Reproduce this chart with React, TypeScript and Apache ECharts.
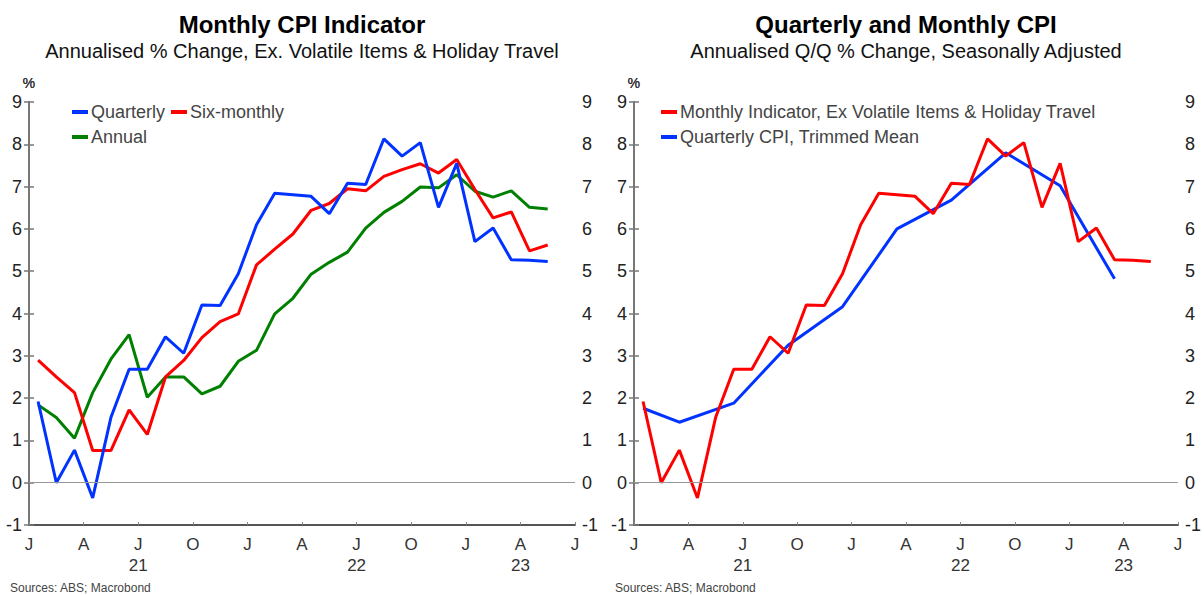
import React, { useEffect, useRef } from "react";
import * as echarts from "echarts";

const months = [
  "2021-01","2021-02","2021-03","2021-04","2021-05","2021-06","2021-07","2021-08","2021-09","2021-10","2021-11","2021-12",
  "2022-01","2022-02","2022-03","2022-04","2022-05","2022-06","2022-07","2022-08","2022-09","2022-10","2022-11","2022-12",
  "2023-01","2023-02","2023-03","2023-04","2023-05","2023-06",
];
const quarterTickLabels = ["J", "A", "J", "O"];
const yearLabels = ["21", "22", "23"];
const yearCenterMonths = [6, 18, 27];

// Monthly CPI indicator, annualised changes (ex volatile items & holiday travel)
const quarterly = [1.92, 0.0, 0.77, -0.36, 1.54, 2.68, 2.68, 3.45, 3.06, 4.2, 4.19, 4.94, 6.1, 6.84, 6.81, 6.77, 6.36, 7.08, 7.05, 8.13, 7.72, 8.04, 6.51, 7.55, 5.7, 6.02, 5.27, 5.26, 5.23, null];
const sixMonthly = [2.9, 2.5, 2.13, 0.76, 0.76, 1.72, 1.14, 2.5, 2.89, 3.43, 3.81, 3.99, 5.15, 5.52, 5.88, 6.44, 6.6, 6.95, 6.9, 7.24, 7.4, 7.54, 7.32, 7.64, 6.93, 6.26, 6.4, 5.48, 5.62, null];
const annual = [1.84, 1.54, 1.05, 2.13, 2.92, 3.5, 2.02, 2.5, 2.5, 2.1, 2.28, 2.87, 3.13, 3.99, 4.36, 4.93, 5.21, 5.45, 6.02, 6.39, 6.65, 6.99, 6.97, 7.28, 6.89, 6.75, 6.9, 6.51, 6.47, null];

// Quarterly CPI trimmed mean, annualised Q/Q (month, value)
const trimmedMonths = ["2021-01", "2021-03", "2021-06", "2021-09", "2021-12", "2022-03", "2022-06", "2022-09", "2022-12", "2023-03"];
const trimmedMean = [1.76, 1.43, 1.88, 3.25, 4.16, 6.0, 6.68, 7.8, 7.02, 4.82];

const FONT = "Liberation Sans, Arial, sans-serif";
const BLUE = "#0033ff";
const RED = "#ff0000";
const GREEN = "#008000";

const toPoints = (vals: (number | null)[]) =>
  vals.map((v, i) => [i + 0.5, v]).filter((p) => p[1] !== null);
const toPointsAt = (ms: string[], vals: number[]) =>
  ms.map((m, i) => [months.indexOf(m) + 0.5, vals[i]]);

export default function App() {
  const ref = useRef<HTMLDivElement>(null);
  useEffect(() => {
    if (!ref.current) return;
    const chart = echarts.init(ref.current, null, { renderer: "svg" });

    const grids = [
      { left: 29, top: 102, width: 546, height: 423 },
      { left: 634, top: 102, width: 545, height: 423 },
    ];

    const xAxes: any[] = [];
    const yAxes: any[] = [];
    grids.forEach((_, gi) => {
      xAxes.push({
        type: "value",
        gridIndex: gi,
        min: 0,
        max: months.length,
        interval: 3,
        axisLine: { show: true, onZero: false, lineStyle: { color: "#555", width: 2 } },
        axisTick: { show: true, inside: true, length: 3, lineStyle: { color: "#888" } },
        splitLine: { show: false },
        axisLabel: {
          fontFamily: FONT,
          fontSize: 17,
          color: "#333",
          margin: 11,
          showMinLabel: true,
          showMaxLabel: true,
          formatter: (v: number) => quarterTickLabels[Math.round(v / 3) % 4],
        },
      });
      xAxes.push({
        type: "value",
        gridIndex: gi,
        position: "bottom",
        offset: 22,
        min: 0,
        max: months.length,
        axisLine: { show: false },
        axisTick: { show: false },
        splitLine: { show: false },
        axisLabel: {
          fontFamily: FONT,
          fontSize: 17,
          color: "#333",
          margin: 10,
          customValues: yearCenterMonths,
          formatter: (v: number) => yearLabels[yearCenterMonths.indexOf(Math.round(v))] ?? "",
        },
      });
      ["left", "right"].forEach((pos) => {
        yAxes.push({
          type: "value",
          gridIndex: gi,
          position: pos,
          min: -1,
          max: 9,
          interval: 1,
          name: "%",
          nameLocation: "end",
          nameGap: 12,
          nameTextStyle: {
            fontFamily: FONT,
            fontSize: 14,
            color: "#333",
            align: pos === "left" ? "right" : "center",
            padding: pos === "left" ? [0, -6, 0, 0] : [0, 0, 0, 0],
          },
          axisLine: { show: true, lineStyle: { color: "#777", width: 2 } },
          axisTick: { show: true, inside: true, length: 5, lineStyle: { color: "#777", width: 1.5 } },
          splitLine: { show: false },
          axisLabel: { fontFamily: FONT, fontSize: 18, color: "#222", margin: 7 },
        });
      });
    });

    const zeroLine = {
      silent: true,
      symbol: "none",
      label: { show: false },
      lineStyle: { color: "#999", width: 1, type: "solid" },
      data: [{ yAxis: 0 }],
    };

    const lineBase = { type: "line", showSymbol: false, symbol: "none", lineStyle: { width: 3 } };

    const series: any[] = [
      { ...lineBase, name: "Annual", xAxisIndex: 0, yAxisIndex: 0, data: toPoints(annual), color: GREEN, lineStyle: { width: 3, color: GREEN }, markLine: zeroLine, z: 2 },
      { ...lineBase, name: "Six-monthly", xAxisIndex: 0, yAxisIndex: 0, data: toPoints(sixMonthly), color: RED, lineStyle: { width: 3, color: RED }, z: 3 },
      { ...lineBase, name: "Quarterly", xAxisIndex: 0, yAxisIndex: 0, data: toPoints(quarterly), color: BLUE, lineStyle: { width: 3, color: BLUE }, z: 4 },
      { ...lineBase, name: "Quarterly CPI, Trimmed Mean", xAxisIndex: 2, yAxisIndex: 2, data: toPointsAt(trimmedMonths, trimmedMean), color: BLUE, lineStyle: { width: 3, color: BLUE }, markLine: zeroLine, z: 3 },
      { ...lineBase, name: "Monthly Indicator, Ex Volatile Items & Holiday Travel", xAxisIndex: 2, yAxisIndex: 2, data: toPoints(quarterly), color: RED, lineStyle: { width: 3, color: RED }, z: 4 },
    ];

    const legendCommon = {
      icon: "rect",
      itemWidth: 16,
      itemHeight: 4,
      itemGap: 6,
      padding: 0,
      selectedMode: false,
      textStyle: { fontFamily: FONT, fontSize: 18, color: "#444", padding: [0, 0, 0, -2] },
    };

    const titleCommon = {
      textAlign: "center",
      top: 7,
      itemGap: 5,
      textStyle: { fontFamily: FONT, fontSize: 24, fontWeight: "bold", color: "#000" },
      subtextStyle: { fontFamily: FONT, fontSize: 20, color: "#111" },
    };

    chart.setOption({
      animation: false,
      backgroundColor: "#fff",
      title: [
        { ...titleCommon, left: 297, text: "Monthly CPI Indicator", subtext: "Annualised % Change, Ex. Volatile Items & Holiday Travel" },
        { ...titleCommon, left: 901, text: "Quarterly and Monthly CPI", subtext: "Annualised Q/Q % Change, Seasonally Adjusted" },
      ],
      legend: [
        { ...legendCommon, left: 72, top: 103, data: ["Quarterly", "Six-monthly"] },
        { ...legendCommon, left: 72, top: 128, data: ["Annual"] },
        { ...legendCommon, left: 661, top: 103, orient: "vertical", itemGap: 7, data: ["Monthly Indicator, Ex Volatile Items & Holiday Travel", "Quarterly CPI, Trimmed Mean"] },
      ],
      grid: grids.map((g) => ({ ...g, containLabel: false })),
      xAxis: xAxes,
      yAxis: yAxes,
      series,
      graphic: [
        { type: "text", left: 10, top: 582, style: { text: "Sources: ABS; Macrobond", fontFamily: FONT, fontSize: 12, fill: "#444" } },
        { type: "text", left: 615, top: 582, style: { text: "Sources: ABS; Macrobond", fontFamily: FONT, fontSize: 12, fill: "#444" } },
      ],
    });
    return () => chart.dispose();
  }, []);

  return (
    <div
      ref={ref}
      style={{ position: "fixed", left: 0, top: 0, width: 1204, height: 595, background: "#fff" }}
    />
  );
}
